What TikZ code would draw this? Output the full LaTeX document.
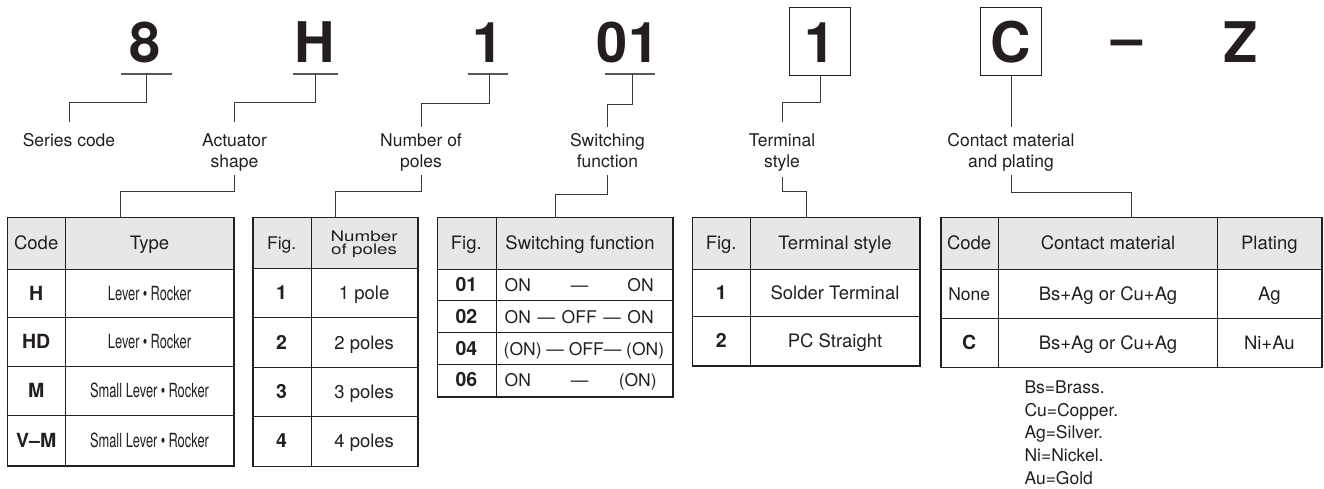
\documentclass[tikz,border=0pt]{standalone}
\usepackage{fontspec}
\setmainfont{TeX Gyre Heros}
\newfontfamily\condfont{TeX Gyre Heros}[FakeStretch=0.66]
\newfontfamily\widefont{TeX Gyre Heros}[FakeStretch=1.3]
\usetikzlibrary{calc}
\definecolor{ink}{HTML}{231F20}
\definecolor{hdr}{HTML}{E6E7E8}
\definecolor{wire}{HTML}{3A3A3A}
\begin{document}
\begin{tikzpicture}[x=1pt,y=-1pt,
  font=\fontsize{18.5}{21}\selectfont, text=ink,
  big/.style={font=\fontsize{56}{60}\selectfont\bfseries, anchor=base, inner sep=0},
  bigbox/.style={draw=ink, line width=1pt, font=\fontsize{56}{60}\selectfont\bfseries,
    minimum width=61pt, minimum height=68pt, inner sep=0, text height=43.4pt, text depth=0pt},
  lab/.style={font=\fontsize{17.5}{21}\selectfont, align=center, anchor=north, inner sep=0},
  conn/.style={draw=wire, line width=1pt},
  uline/.style={draw=wire!85, line width=1.3pt},
  frame/.style={draw=ink, line width=1.6pt, anchor=north west, inner sep=0},
  grid/.style={draw=ink, line width=0.9pt},
  cell/.style={inner sep=0, text height=13.3pt, text depth=0pt, anchor=center},
  bcell/.style={cell, font=\fontsize{19.5}{21}\selectfont\bfseries},
  ccell/.style={cell, font=\fontsize{19.5}{21}\selectfont\condfont},
  swcell/.style={cell, anchor=west, font=\fontsize{17.5}{21}\selectfont},
  fn/.style={anchor=base west, inner sep=0, font=\fontsize{17.5}{21}\selectfont}]
\useasboundingbox (0,0) rectangle (1324,488);

% ---- code characters
\node[big] (c8) at (145.3,62.7) {8};
\node[big] (cH) at (315,62.7) {H};
\node[big] (c1) at (488,62.7) {1};
\node[big] (c01) at (628,62.7) {01};
\node[bigbox] (b1) at (820,41) {1};
\node[bigbox] (bC) at (1011,41) {C};
\node[big] (cdash) at (1127,57.2) {–};
\node[big] (cZ) at (1240.5,62.7) {Z};

% ---- underlines
\coordinate (u8) at (146.5,74);
\coordinate (uH) at (315,74);
\coordinate (u1) at (489.5,74);
\coordinate (u01) at (632.6,74);
\draw[uline] (121,74) -- (172,74);
\draw[uline] (293,74) -- (337.5,74);
\draw[uline] (468,74) -- (508,74);
\draw[uline] (605,74) -- (655,74);

% ---- labels
\node[lab] (l1) at (69,133.7) {Series code};
\node[lab] (l2) at (234.5,133.7) {Actuator\\shape};
\node[lab] (l3) at (421,133.7) {Number of\\poles};
\node[lab] (l4) at (607.5,133.7) {Switching\\function};
\node[lab] (l5) at (782,133.7) {Terminal\\style};
\node[lab] (l6) at (1011,133.7) {Contact material\\and plating};

% ---- tables: backgrounds and grids
% T1
\fill[hdr] (6.7,216.7) rectangle (233.3,269);
\draw[grid] (65.7,216.7) -- (65.7,465);
\foreach \yy in {269,317.7,366.7,415.7} \draw[grid] (6.7,\yy) -- (233.3,\yy);
\node[frame, minimum width=226.6pt, minimum height=248.3pt] (T1) at (6.7,216.7) {};
% T2
\fill[hdr] (252.3,216.7) rectangle (417.3,268.5);
\draw[grid] (311,216.7) -- (311,465.5);
\foreach \yy in {268.5,317.7,367,416.5} \draw[grid] (252.3,\yy) -- (417.3,\yy);
\node[frame, minimum width=165pt, minimum height=248.8pt] (T2) at (252.3,216.7) {};
% T3
\fill[hdr] (436.7,216.7) rectangle (672.3,269);
\draw[grid] (496,216.7) -- (496,396);
\foreach \yy in {269,300.7,332.7,364.3} \draw[grid] (436.7,\yy) -- (672.3,\yy);
\node[frame, minimum width=235.6pt, minimum height=179.3pt] (T3) at (436.7,216.7) {};
% T4
\fill[hdr] (691.7,216.7) rectangle (919.3,269);
\draw[grid] (750.7,216.7) -- (750.7,365);
\foreach \yy in {269,316.7} \draw[grid] (691.7,\yy) -- (919.3,\yy);
\node[frame, minimum width=227.6pt, minimum height=148.3pt] (T4) at (691.7,216.7) {};
% T5
\fill[hdr] (940,216.7) rectangle (1321,269);
\draw[grid] (998.3,216.7) -- (998.3,366.7);
\draw[grid] (1217.7,216.7) -- (1217.7,366.7);
\foreach \yy in {269,318.3} \draw[grid] (940,\yy) -- (1321,\yy);
\node[frame, minimum width=381pt, minimum height=150pt] (T5) at (940,216.7) {};

% ---- connectors
\draw[conn] (u8) -- ++(0,28) -| ([yshift=11.7pt]l1.north);
\draw[conn] (uH) -- ++(0,28) -| ([yshift=11.7pt]l2.north);
\draw[conn] (u1) -- ++(0,29) -| ([yshift=6.7pt]l3.north);
\draw[conn] (u01) -- ++(0,30) -| ([yshift=6.7pt]l4.north);
\draw[conn] (b1.south) -- ++(0,27) -| ([yshift=11.7pt]l5.north);
\draw[conn] (bC.south) -- ([yshift=6.7pt]l6.north);
\draw[conn] ([yshift=-41.3pt]l2.north) -- ++(0,16) -| (T1.north);
\draw[conn] ([yshift=-41.3pt]l3.north) -- ++(0,16) -| (T2.north);
\draw[conn] ([yshift=-41.3pt]l4.north) -- ++(0,19) -| (T3.north);
\draw[conn] ([yshift=-43.3pt]l5.north) -- ++(0,14) -| (T4.north);
\draw[conn] ([yshift=-41.3pt]l6.north) -- ++(0,17) -| (T5.north);

% ---- table 1 cells
\node[cell] (t1h1) at (36.2,242.85) {Code};
\node[cell] (t1h2) at (149.5,242.85) {Type};
\node[bcell] (t1a1) at (36.2,293.35) {H};
\node[ccell] (t1a2) at (149.5,293.35) {Lever\,•\,Rocker};
\node[bcell] (t1b1) at (36.2,342.2) {HD};
\node[ccell] (t1b2) at (149.5,342.2) {Lever\,•\,Rocker};
\node[bcell] (t1c1) at (36.2,391.2) {M};
\node[ccell] (t1c2) at (149.5,391.2) {Small Lever\,•\,Rocker};
\node[bcell] (t1d1) at (36.2,440.35) {V–M};
\node[ccell] (t1d2) at (149.5,440.35) {Small Lever\,•\,Rocker};

% ---- table 2 cells
\node[cell, font=\fontsize{17.5}{20}\selectfont] (t2h1) at (281.65,242.6) {Fig.};
\node[inner sep=0, align=center, font=\fontsize{14.5}{13.5}\selectfont\widefont] (t2h2) at (364.15,244.5) {Number\\of poles};
\node[bcell] (t2a1) at (281.65,293.1) {1};
\node[cell] (t2a2) at (364.15,293.1) {1 pole};
\node[bcell] (t2b1) at (281.65,342.35) {2};
\node[cell] (t2b2) at (364.15,342.35) {2 poles};
\node[bcell] (t2c1) at (281.65,391.75) {3};
\node[cell] (t2c2) at (364.15,391.75) {3 poles};
\node[bcell] (t2d1) at (281.65,441) {4};
\node[cell] (t2d2) at (364.15,441) {4 poles};

% ---- table 3 cells
\node[cell] (t3h1) at (466.35,242.85) {Fig.};
\node[cell] (t3h2) at (580,242.85) {Switching function};
\node[bcell] (t3a1) at (466.35,284.85) {01};
\node[swcell] (t3a2) at (504.5,284.85) {\makebox[149pt][l]{ON\hspace{40pt}—\hfill ON}};
\node[bcell] (t3b1) at (466.35,316.7) {02};
\node[swcell] (t3b2) at (504.5,316.7) {\makebox[149pt][s]{ON\hfill—\hfill OFF\hfill—\hfill ON}};
\node[bcell] (t3c1) at (466.35,348.5) {04};
\node[swcell] (t3c2) at (503.5,348.5) {(ON) — OFF— (ON)};
\node[bcell] (t3d1) at (466.35,380.15) {06};
\node[swcell] (t3d2) at (504.5,380.15) {\makebox[152pt][l]{ON\hspace{40pt}—\hfill(ON)}};

% ---- table 4 cells
\node[cell] (t4h1) at (721.2,242.85) {Fig.};
\node[cell] (t4h2) at (835,242.85) {Terminal style};
\node[bcell] (t4a1) at (721.2,292.85) {1};
\node[cell] (t4a2) at (835,292.85) {Solder Terminal};
\node[bcell] (t4b1) at (721.2,340.85) {2};
\node[cell] (t4b2) at (835,340.85) {PC Straight};

% ---- table 5 cells
\node[cell] (t5h1) at (969.15,242.85) {Code};
\node[cell] (t5h2) at (1108,242.85) {Contact material};
\node[cell] (t5h3) at (1269.35,242.85) {Plating};
\node[cell, font=\fontsize{17.5}{21}\selectfont] (t5a1) at (969.15,293.65) {None};
\node[cell] (t5a2) at (1108,293.65) {Bs+Ag or Cu+Ag};
\node[cell] (t5a3) at (1269.35,293.65) {Ag};
\node[bcell] (t5b1) at (969.15,342.5) {C};
\node[cell] (t5b2) at (1108,342.5) {Bs+Ag or Cu+Ag};
\node[cell] (t5b3) at (1269.35,342.5) {Ni+Au};

% ---- footnotes
\node[fn] (f1) at (1024.3,393.5) {Bs=Brass.};
\node[fn] (f2) at (1024.3,416.2) {Cu=Copper.};
\node[fn] (f3) at (1024.3,438.9) {Ag=Silver.};
\node[fn] (f4) at (1024.3,461.6) {Ni=Nickel.};
\node[fn] (f5) at (1024.3,484.3) {Au=Gold};
\end{tikzpicture}
\end{document}
